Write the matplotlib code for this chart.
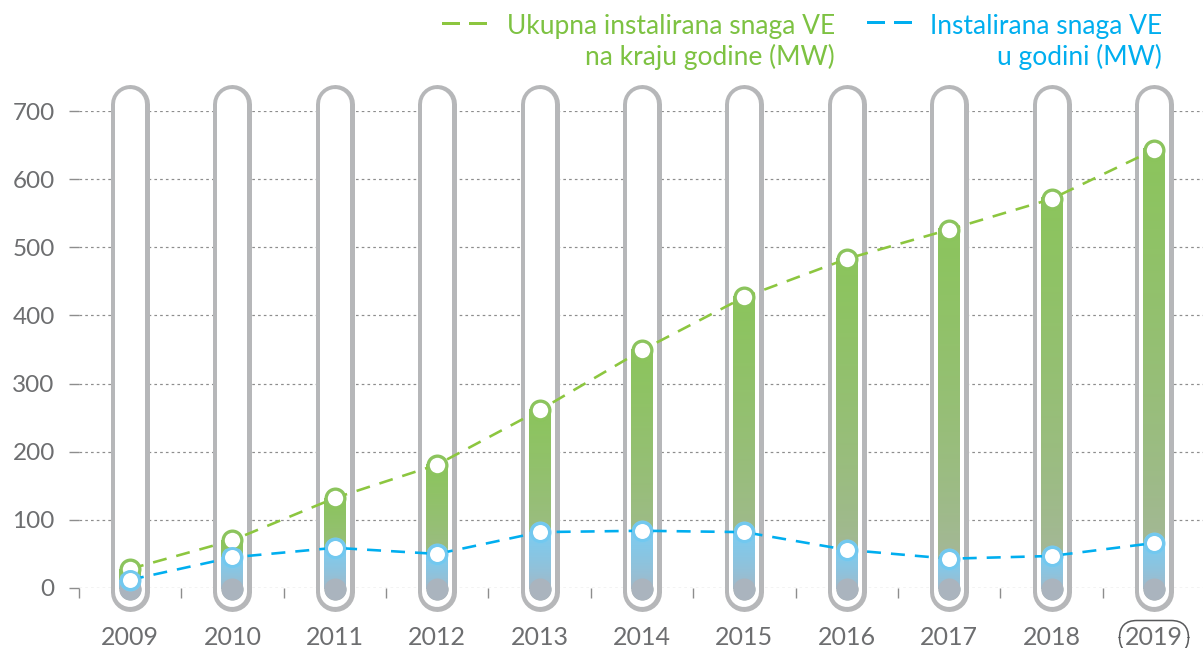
import numpy as np
import matplotlib
matplotlib.use("Agg")
import matplotlib.pyplot as plt
from matplotlib.collections import LineCollection
from matplotlib.colors import to_rgb
from matplotlib.lines import Line2D

# --- data -------------------------------------------------------------
years = ["2009", "2010", "2011", "2012", "2013", "2014",
         "2015", "2016", "2017", "2018", "2019"]
total_mw = [28, 70, 132, 181, 261, 349, 427, 483, 526, 571, 643]   # cumulative, end of year
added_mw = [12, 45, 59, 50, 82, 84, 82, 56, 43, 47, 66]            # installed during year
y_ticks = [0, 100, 200, 300, 400, 500, 600, 700]

legend_total = "Ukupna instalirana snaga VE\nna kraju godine (MW)"
legend_added = "Instalirana snaga VE\nu godini (MW)"

# --- style ------------------------------------------------------------
GREEN = "#8cc63f"
BLUE = "#00aeef"
TEXT = "#6d6e70"
TUBE = "#b6b7b9"
GREEN_TOP, GREEN_BOT = "#8bc45c", "#adb2ad"
BLUE_TOP, BLUE_BOT = "#7ccbef", "#acb3bc"
FONT = "Lato"

W_PX, H_PX, DPI = 1203, 648, 100
PT = 72.0 / DPI  # points per pixel

plt.rcParams["font.family"] = [FONT, "DejaVu Sans"]

fig = plt.figure(figsize=(W_PX / DPI, H_PX / DPI), dpi=DPI)
# axes: x from -0.5 to right edge, y 0 at px 588, 700 at px 111
left_px, right_px = 78.8, W_PX
bottom_px, top_px = 588, 111
ax = fig.add_axes([left_px / W_PX, 1 - bottom_px / H_PX,
                   (right_px - left_px) / W_PX, (bottom_px - top_px) / H_PX])
x_unit = 102.4
ax.set_xlim(-0.5, -0.5 + (right_px - left_px) / x_unit)
ax.set_ylim(0, 700)

x = np.arange(len(years))

# tubes: grey rounded outline with white interior
tube_lo, tube_hi = -6.6, 709.6
for xi in x:
    ax.plot([xi, xi], [tube_lo, tube_hi], color=TUBE, lw=39 * PT,
            solid_capstyle="round", zorder=2, clip_on=False)
    ax.plot([xi, xi], [tube_lo, tube_hi], color="white", lw=30 * PT,
            solid_capstyle="round", zorder=2.1, clip_on=False)


def gradient_bar(xi, y0, y1, c_bot, c_top, z, gamma=1.0, n=160):
    cb, ct = np.array(to_rgb(c_bot)), np.array(to_rgb(c_top))
    edges = np.linspace(y0, y1, n + 1)
    step = edges[1] - edges[0]
    segs, cols = [], []
    for k in range(n):
        t = ((k + 0.5) / n) ** gamma
        segs.append([(xi, edges[k]), (xi, edges[k + 1] + step * 0.6)])
        cols.append(cb + (ct - cb) * t)
    lc = LineCollection(segs, colors=cols, linewidths=22 * PT,
                        capstyle="butt", zorder=z, clip_on=False)
    ax.add_collection(lc)
    ax.scatter([xi], [y0], s=(22 * PT) ** 2, color=cols[0], lw=0, zorder=z,
               clip_on=False)
    ax.scatter([xi], [y1], s=(22 * PT) ** 2, color=ct, lw=0, zorder=z,
               clip_on=False)


bar_base = -1.5
for xi, tv, av in zip(x, total_mw, added_mw):
    gradient_bar(xi, bar_base, tv, GREEN_BOT, GREEN_TOP, 3, gamma=0.55)
    gradient_bar(xi, bar_base, av, BLUE_BOT, BLUE_TOP, 3.2, gamma=0.55)

# dashed lines
lw_line = 2.6 * PT
dash = (14 * PT / lw_line, 10 * PT / lw_line)
ax.plot(x, total_mw, color=GREEN, lw=lw_line, dashes=dash, zorder=4, clip_on=False)
ax.plot(x, added_mw, color=BLUE, lw=lw_line, dashes=dash, zorder=4, clip_on=False)

# markers
ax.plot(x, total_mw, ls="none", marker="o", ms=18 * PT, mfc="white",
        mec="#8cc45e", mew=2.6 * PT, zorder=5, clip_on=False)
ax.plot(x, added_mw, ls="none", marker="o", ms=18 * PT, mfc="white",
        mec="#72c8ef", mew=3.0 * PT, zorder=5.2, clip_on=False)

# axes styling
for sp in ax.spines.values():
    sp.set_visible(False)
ax.set_axisbelow(True)
ax.set_yticks(y_ticks)
ax.set_yticklabels([str(v) for v in y_ticks])
ax.yaxis.grid(True, color="#8d8d8d", lw=1.2 * PT, linestyle=(0, (2.2, 2.6)))
ax.tick_params(axis="y", length=10 * PT, width=1.4 * PT, color="#8d8d8d",
               labelsize=17.5, labelcolor=TEXT, pad=14 * PT)

ax.set_xticks(x)
ax.set_xticklabels(years)
ax.set_xticks(np.arange(-0.5, len(years) - 0.5, 1.0), minor=True)
ax.tick_params(axis="x", which="major", length=0, labelsize=18,
               labelcolor=TEXT, pad=38 * PT)
ax.tick_params(axis="x", which="minor", length=10 * PT, width=1.4 * PT,
               color="#8d8d8d")
ax.get_xticklabels()[-1].set_bbox(dict(boxstyle="round,pad=0.22,rounding_size=0.7",
                                       fc="none", ec="#58595b", lw=1.1))

# legend


def fx(px):
    return px / W_PX


def fy(py):
    return 1 - py / H_PX


for (x0, x1, y, col) in [(443, 458, 23, GREEN), (470, 485, 23, GREEN),
                         (868, 883, 22, BLUE), (895, 910, 22, BLUE)]:
    fig.add_artist(Line2D([fx(x0), fx(x1)], [fy(y), fy(y)], color=col,
                          lw=3 * PT, transform=fig.transFigure))

fig.text(fx(835), fy(14), legend_total, color="#7dc242", fontsize=19,
         ha="right", va="top", linespacing=1.25)
fig.text(fx(1162), fy(14), legend_added, color=BLUE, fontsize=19,
         ha="right", va="top", linespacing=1.25)

fig.savefig("out.png", dpi=DPI)
